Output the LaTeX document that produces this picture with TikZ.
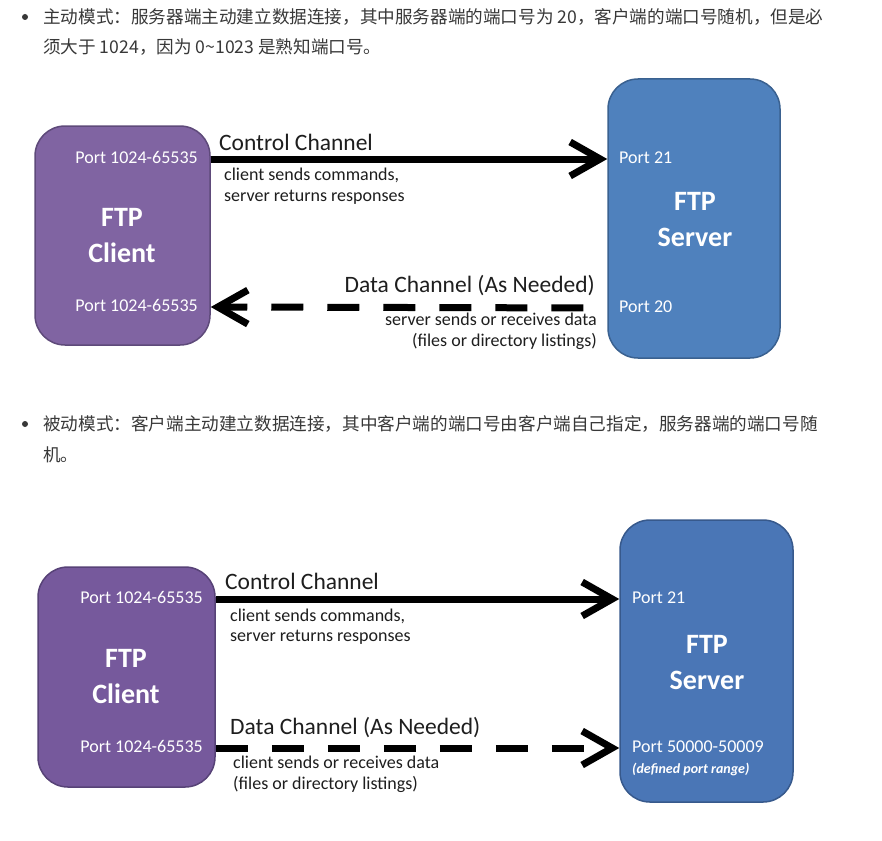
\documentclass[tikz,border=0pt]{standalone}
\usepackage{fontspec}
\setmainfont{Carlito}
\newfontfamily\cjk{Noto Sans CJK SC}
\usetikzlibrary{arrows.meta}
\definecolor{purpA}{HTML}{8064A2}
\definecolor{purpAd}{HTML}{5E4A7A}
\definecolor{blueA}{HTML}{4F81BD}
\definecolor{blueAd}{HTML}{3A6190}
\definecolor{purpB}{HTML}{76599C}
\definecolor{purpBd}{HTML}{574277}
\definecolor{blueB}{HTML}{4A76B6}
\definecolor{blueBd}{HTML}{37598C}
\definecolor{cjkgray}{HTML}{383838}
\definecolor{labelc}{HTML}{1E1E1E}
\begin{document}
\begin{tikzpicture}[x=1pt,y=-1pt,
  cn/.style={font=\cjk\fontsize{17.6}{20}\selectfont, text=cjkgray, anchor=west, inner sep=0, text height=14pt, text depth=1pt},
  bul/.style={circle, fill=cjkgray, inner sep=0, minimum size=6pt},
  box/.style={rounded corners=30pt, draw, line width=1.5pt, inner sep=0},
  port/.style={font=\fontsize{18}{20}\selectfont, text=white, inner sep=0, text height=13pt, text depth=4pt},
  big/.style={font=\bfseries\fontsize{28}{36}\selectfont, text=white, align=center, inner sep=0},
  chan/.style={font=\fontsize{23.5}{26}\selectfont, text=labelc, inner sep=0, text height=16pt, text depth=5pt},
  note/.style={font=\fontsize{18}{21}\selectfont, text=labelc, inner sep=0, text height=13pt, text depth=4pt},
  ctrl/.style={line width=7pt, -{Straight Barb[length=30pt,width=34pt]}},
  data/.style={ctrl, dash pattern=on 32pt off 24pt},
]
\fill[white] (0,0) rectangle (882,840);
\useasboundingbox (0,0) rectangle (882,840);

% ---------- Active mode text ----------
\node[bul] (b1) at (25,17) {};
\node[cn] (t1) at (43,17) {主动模式：服务器端主动建立数据连接，其中服务器端的端口号为 20，客户端的端口号随机，但是必};
\node[cn] (t2) at (43,47) {须大于 1024，因为 0\textasciitilde 1023 是熟知端口号。};

% ---------- Diagram 1 ----------
\node[box, fill=purpA, draw=purpAd, minimum width=175pt, minimum height=219pt] (client1) at (122.5,235.5) {};
\node[box, fill=blueA, draw=blueAd, minimum width=172pt, minimum height=279pt] (server1) at (694,218.5) {};

\node[port, anchor=east] (p1c) at (198,159) {Port 1024-65535};
\node[port, anchor=east] (p1cb) at (198,307) {Port 1024-65535};
\node[port, anchor=west] (p1s) at (619,159) {Port 21};
\node[port, anchor=west] (p1sd) at (619,308) {Port 20};
\node[big] (ftp1c) at (122,236) {FTP\\Client};
\node[big] (ftp1s) at (695,220) {FTP\\Server};

\node[chan, anchor=west] (cc1) at (219,145) {Control Channel};
\node[note, anchor=west] (cn1a) at (224,176) {client sends commands,};
\node[note, anchor=west] (cn1b) at (224,197) {server returns responses};
\node[chan, anchor=east] (dc1) at (595,287) {Data Channel (As Needed)};
\node[note, anchor=east] (dn1a) at (597,321) {server sends or receives data};
\node[note, anchor=east] (dn1b) at (597,342) {(files or directory listings)};

\draw[ctrl] (client1.east |- p1c) -- (server1.west |- p1c);
\draw[data, dash phase=32pt] (server1.west |- p1sd) -- (client1.east |- p1cb);

% ---------- Passive mode text ----------
\node[bul] (b2) at (25,424) {};
\node[cn] (t3) at (43,424) {被动模式：客户端主动建立数据连接，其中客户端的端口号由客户端自己指定，服务器端的端口号随};
\node[cn] (t4) at (43,455) {机。};

% ---------- Diagram 2 ----------
\node[box, fill=purpB, draw=purpBd, minimum width=177pt, minimum height=220pt] (client2) at (126.5,677) {};
\node[box, fill=blueB, draw=blueBd, minimum width=173pt, minimum height=282pt] (server2) at (706.5,661) {};

\node[port, anchor=east] (p2c) at (203,599) {Port 1024-65535};
\node[port, anchor=east] (p2cb) at (203,748) {Port 1024-65535};
\node[port, anchor=west] (p2s) at (632,599) {Port 21};
\node[port, anchor=west] (p2sd) at (632,748) {Port 50000-50009};
\node[anchor=west, inner sep=0, text=white, font=\bfseries\itshape\fontsize{14}{16}\selectfont] (range) at (632,769) {(defined port range)};
\node[big] (ftp2c) at (126,677) {FTP\\Client};
\node[big] (ftp2s) at (707,663) {FTP\\Server};

\node[chan, anchor=west] (cc2) at (225,584) {Control Channel};
\node[note, anchor=west] (cn2a) at (230,617) {client sends commands,};
\node[note, anchor=west] (cn2b) at (230,637) {server returns responses};
\node[chan, anchor=west] (dc2) at (230,729) {Data Channel (As Needed)};
\node[note, anchor=west] (dn2a) at (233,764) {client sends or receives data};
\node[note, anchor=west] (dn2b) at (233,785) {(files or directory listings)};

\draw[ctrl] (client2.east |- p2c) -- (server2.west |- p2c);
\draw[data] (client2.east |- p2cb) -- (server2.west |- p2cb);
\end{tikzpicture}
\end{document}
